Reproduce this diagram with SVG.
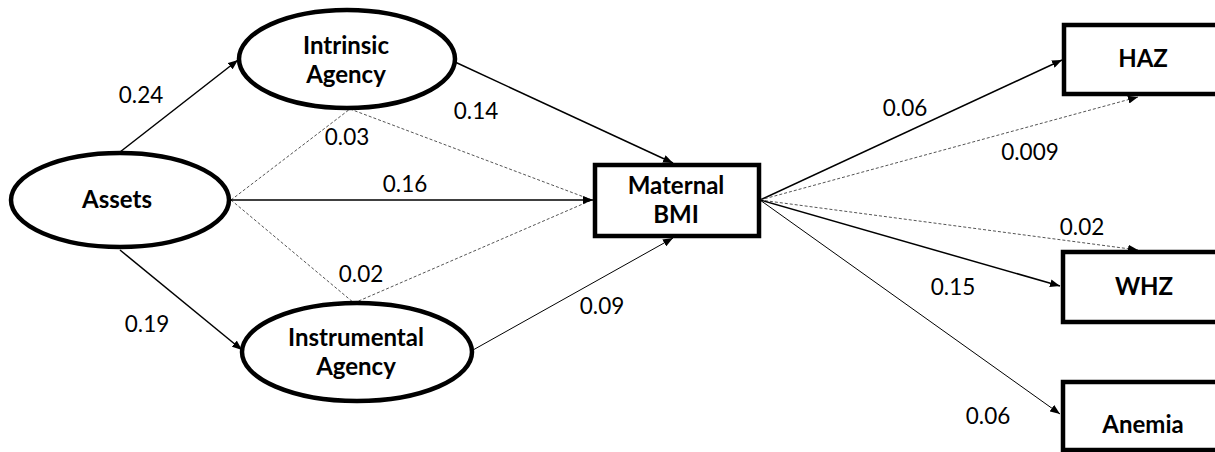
<svg xmlns="http://www.w3.org/2000/svg" width="1215" height="452" viewBox="0 0 1215 452">
<style>
.node{fill:#fff;stroke:#000;stroke-width:4.5}
.lbl{font-family:Lato,"Open Sans",sans-serif;font-weight:bold;font-size:24px;text-anchor:middle;fill:#000}
.num{font-family:Lato,"Open Sans",sans-serif;font-size:22.5px;text-anchor:middle;fill:#000}
.s{stroke:#000;stroke-width:1.5;fill:none}
.t{stroke:#000;stroke-width:1;fill:none}
.d{stroke:#555;stroke-width:1;stroke-dasharray:3 2;fill:none}
</style>
<defs>
<marker id="ah" markerUnits="userSpaceOnUse" markerWidth="10" markerHeight="8" refX="10" refY="4" orient="auto"><path d="M0,0 L10,4 L0,8 z" fill="#000"/></marker>
</defs>
<rect width="1215" height="452" fill="#fff"/>
<g id="connectors">
<line class="s" x1="120" y1="152" x2="238" y2="60" marker-end="url(#ah)"/>
<line class="s" x1="120" y1="250" x2="242" y2="350" marker-end="url(#ah)"/>
<line class="d" x1="231" y1="200" x2="350" y2="109"/>
<line class="d" x1="231" y1="200" x2="354" y2="303"/>
<line class="d" x1="350" y1="109" x2="592" y2="200"/>
<line class="d" x1="354" y1="303" x2="592" y2="200"/>
<line class="s" x1="231" y1="200" x2="593" y2="200" marker-end="url(#ah)"/>
<line class="s" x1="455" y1="62" x2="673" y2="163" marker-end="url(#ah)"/>
<line class="t" x1="473" y1="350" x2="673" y2="238" marker-end="url(#ah)"/>
<line class="s" x1="760" y1="200" x2="1062" y2="60" marker-end="url(#ah)"/>
<line class="d" x1="760" y1="200" x2="1138" y2="97" marker-end="url(#ah)"/>
<line class="d" x1="760" y1="200" x2="1138" y2="250" marker-end="url(#ah)"/>
<line class="s" x1="760" y1="200" x2="1060" y2="286" marker-end="url(#ah)"/>
<line class="t" x1="760" y1="200" x2="1060" y2="414" marker-end="url(#ah)"/>
</g>
<g id="assets"><ellipse class="node" cx="120" cy="200" rx="109" ry="47"/><text class="lbl" x="117" y="208">Assets</text></g>
<g id="intrinsic"><ellipse class="node" cx="347" cy="59" rx="108" ry="49"/><text class="lbl" x="346" y="54">Intrinsic</text><text class="lbl" x="346" y="83">Agency</text></g>
<g id="instrumental"><ellipse class="node" cx="357" cy="352" rx="115" ry="49"/><text class="lbl" x="356" y="346">Instrumental</text><text class="lbl" x="356" y="375">Agency</text></g>
<g id="bmi"><rect class="node" x="595" y="165" width="164" height="71"/><text class="lbl" x="676" y="194">Maternal</text><text class="lbl" x="676" y="223">BMI</text></g>
<g id="haz"><rect class="node" x="1064" y="25" width="170" height="69"/><text class="lbl" x="1143" y="67">HAZ</text></g>
<g id="whz"><rect class="node" x="1063" y="252" width="170" height="70"/><text class="lbl" x="1144" y="295">WHZ</text></g>
<g id="anemia"><rect class="node" x="1063" y="382" width="170" height="68"/><text class="lbl" x="1143" y="433">Anemia</text></g>
<g id="labels">
<text class="num" x="141" y="103">0.24</text>
<text class="num" x="147" y="332">0.19</text>
<text class="num" x="347" y="145">0.03</text>
<text class="num" x="405" y="192">0.16</text>
<text class="num" x="361" y="282">0.02</text>
<text class="num" x="476" y="119">0.14</text>
<text class="num" x="602" y="314">0.09</text>
<text class="num" x="905" y="116">0.06</text>
<text class="num" x="1030" y="160">0.009</text>
<text class="num" x="1082" y="235">0.02</text>
<text class="num" x="953" y="295">0.15</text>
<text class="num" x="988" y="424">0.06</text>
</g>
</svg>
